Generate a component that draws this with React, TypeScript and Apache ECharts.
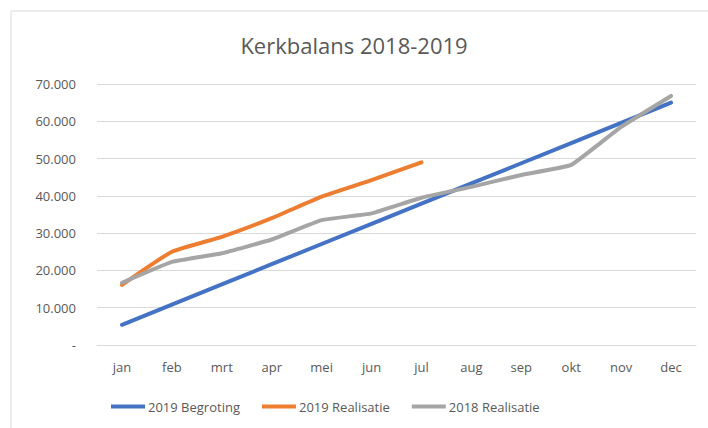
import React, { useEffect, useRef } from "react";
import * as echarts from "echarts";

const months = ["jan", "feb", "mrt", "apr", "mei", "jun", "jul", "aug", "sep", "okt", "nov", "dec"];
const begroting2019 = [5417, 10833, 16250, 21667, 27083, 32500, 37917, 43333, 48750, 54167, 59583, 65000];
const realisatie2019 = [16100, 25000, 29000, 34000, 39800, 44200, 49000];
const realisatie2018 = [16700, 22300, 24600, 28300, 33500, 35300, 39500, 42400, 45600, 48300, 58500, 66800];
const yTicks = [0, 10000, 20000, 30000, 40000, 50000, 60000, 70000];

const FONT = "'Open Sans', 'Noto Sans', sans-serif";

function fmt(v: number): string {
  if (v === 0) return "-";
  const s = String(Math.round(v));
  return s.replace(/\B(?=(\d{3})+(?!\d))/g, ".");
}

export default function App() {
  const ref = useRef<HTMLDivElement>(null);
  useEffect(() => {
    if (!ref.current) return;
    const chart = echarts.init(ref.current, null, { renderer: "svg" });
    chart.setOption({
      animation: false,
      backgroundColor: "#ffffff",
      title: {
        text: "Kerkbalans 2018-2019",
        left: "center",
        top: 29,
        textStyle: { fontFamily: FONT, fontSize: 22, fontWeight: "normal", color: "#595959" },
      },
      graphic: [
        {
          type: "rect",
          shape: { x: 11, y: 11, width: 720, height: 440 },
          style: { fill: "none", stroke: "#d9d9d9", lineWidth: 1 },
          silent: true,
        },
      ],
      legend: {
        bottom: 10,
        left: 106,
        icon: "rect",
        itemWidth: 34,
        itemHeight: 4,
        itemGap: 22,
        textStyle: { fontFamily: FONT, fontSize: 13, color: "#595959", padding: [0, 0, 0, -2] },
        data: ["2019 Begroting", "2019 Realisatie", "2018 Realisatie"],
      },
      grid: { left: 97, right: 12, top: 84, bottom: 83, containLabel: false },
      xAxis: {
        type: "category",
        data: months,
        boundaryGap: true,
        axisLine: { show: true, lineStyle: { color: "#d9d9d9", width: 1 } },
        axisTick: { show: false },
        axisLabel: { fontFamily: FONT, fontSize: 13, color: "#595959", margin: 15 },
      },
      yAxis: {
        type: "value",
        min: yTicks[0],
        max: yTicks[yTicks.length - 1],
        interval: 10000,
        axisLine: { show: false },
        axisTick: { show: false },
        splitLine: { lineStyle: { color: "#d9d9d9", width: 1 } },
        axisLabel: { fontFamily: FONT, fontSize: 13, color: "#595959", margin: 21, formatter: (v: number) => fmt(v) },
      },
      series: [
        {
          name: "2019 Begroting",
          type: "line",
          data: begroting2019,
          symbol: "none",
          lineStyle: { color: "#4472C4", width: 4, cap: "round", join: "round" },
          itemStyle: { color: "#4472C4" },
          z: 2,
        },
        {
          name: "2019 Realisatie",
          type: "line",
          data: realisatie2019,
          symbol: "none",
          smooth: 0.15,
          lineStyle: { color: "#ED7D31", width: 4, cap: "round", join: "round" },
          itemStyle: { color: "#ED7D31" },
          z: 3,
        },
        {
          name: "2018 Realisatie",
          type: "line",
          data: realisatie2018,
          symbol: "none",
          smooth: 0.1,
          lineStyle: { color: "#A5A5A5", width: 4, cap: "round", join: "round" },
          itemStyle: { color: "#A5A5A5" },
          z: 4,
        },
      ],
    });
    return () => chart.dispose();
  }, []);
  return <div ref={ref} style={{ width: 708, height: 428, position: "absolute", left: 0, top: 0 }} />;
}
